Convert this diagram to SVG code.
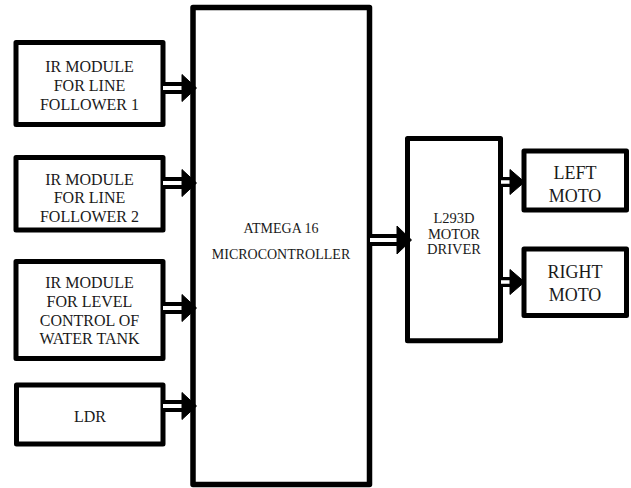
<svg xmlns="http://www.w3.org/2000/svg" width="631" height="488" viewBox="0 0 631 488">
<style>
.box{fill:#fff;stroke:#000;stroke-width:5;stroke-linejoin:round}
.t{fill:#1a1a1a;text-anchor:middle}
.s16{font-size:16px}.s14{font-size:14px}.s145{font-size:14.5px}.s18{font-size:18px}
.so{stroke:#000;stroke-width:12;fill:none}
.si{stroke:#fff;stroke-width:4;fill:none}
.so2{stroke:#000;stroke-width:10;fill:none}
.si2{stroke:#fff;stroke-width:3.5;fill:none}
.hd{fill:#000;stroke:#000;stroke-width:1;stroke-linejoin:miter}
</style>
<rect width="631" height="488" fill="#fff"/>
<g font-family="Liberation Serif, Times New Roman, DejaVu Serif, serif">
<g id="ir1">
<rect class="box" x="16" y="42.5" width="147" height="82"/>
<text class="t s16" x="89.5" y="71.5">IR MODULE</text>
<text class="t s16" x="89.5" y="90.8">FOR LINE</text>
<text class="t s16" x="89.5" y="110">FOLLOWER 1</text>
</g>
<g id="ir2">
<rect class="box" x="16" y="157.5" width="147" height="72.5"/>
<text class="t s16" x="89.5" y="184.8">IR MODULE</text>
<text class="t s16" x="89.5" y="203.3">FOR LINE</text>
<text class="t s16" x="89.5" y="221.8">FOLLOWER 2</text>
</g>
<g id="ir3">
<rect class="box" x="16" y="261.5" width="147" height="97"/>
<text class="t s16" x="89.5" y="287.7">IR MODULE</text>
<text class="t s16" x="89.5" y="306.6">FOR LEVEL</text>
<text class="t s16" x="89.5" y="325.5">CONTROL OF</text>
<text class="t s16" x="89.5" y="344.4">WATER TANK</text>
</g>
<g id="ldr">
<rect class="box" x="16.5" y="385" width="146.5" height="59"/>
<text class="t s16" x="90" y="421.5">LDR</text>
</g>
<g id="mcu">
<rect class="box" style="stroke-width:5.5" x="193" y="7.5" width="176.5" height="477"/>
<text class="t s14" x="281" y="233.3">ATMEGA 16</text>
<text class="t s14" x="281" y="258.5">MICROCONTROLLER</text>
</g>
<g id="driver">
<rect class="box" x="407.5" y="138.5" width="93" height="202.3"/>
<text class="t s145" x="454" y="223.3">L293D</text>
<text class="t s145" x="454" y="238.5">MOTOR</text>
<text class="t s145" x="454" y="254">DRIVER</text>
</g>
<g id="leftmoto">
<rect class="box" x="524" y="151" width="102.5" height="59"/>
<text class="t s18" x="575" y="178.5">LEFT</text>
<text class="t s18" x="575" y="201.5">MOTO</text>
</g>
<g id="rightmoto">
<rect class="box" x="524" y="249" width="102.5" height="66.5"/>
<text class="t s18" x="575" y="277.5">RIGHT</text>
<text class="t s18" x="575" y="300.5">MOTO</text>
</g>
</g>
<g id="connectors">
<path class="so" d="M163 88H183M163 183H183M163 308H183M163 406H183M369.5 240H398"/>
<path class="si" d="M163 88H182M163 183H182M163 308H182M163 406H182M370 240H397"/>
<path class="hd" d="M182 74.5L196.5 88L182 101.5ZM182 169.5L196.5 183L182 196.5ZM182 294.5L196.5 308L182 321.5ZM182 392.5L196.5 406L182 419.5ZM397 226L411.5 240L397 254Z"/>
<path class="so2" d="M500.5 182H511M500.5 282H511"/>
<path class="si2" d="M501 182H510.5M501 282H510.5"/>
<path class="hd" d="M510 169.5L524.5 182L510 194.5ZM510 269.5L524.5 282L510 294.5Z"/>
</g>
</svg>
